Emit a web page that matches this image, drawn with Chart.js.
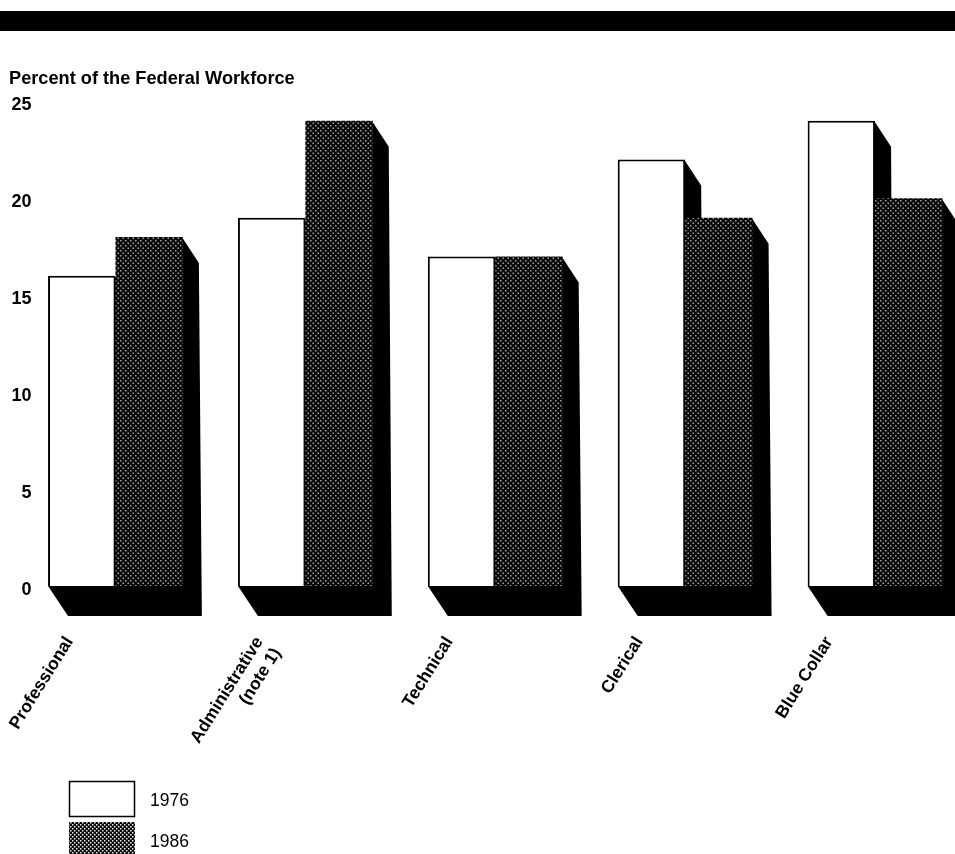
<!DOCTYPE html>
<html>
<head>
<meta charset="utf-8">
<title>Federal Workforce</title>
<script src="https://cdn.jsdelivr.net/npm/chart.js@4"></script>
<style>
    html, body { margin: 0; padding: 0; background: #fff; overflow: hidden; width: 955px; height: 854px; }
    canvas { display: block; }
</style>
</head>
<body>
<canvas id="chart" width="970" height="854"></canvas>
<script>
const categories = ['Professional', ['Administrative', '(note 1)'], 'Technical', 'Clerical', 'Blue Collar'];
const values1976 = [16, 19, 17, 22, 24];
const values1986 = [18, 24, 17, 19, 20];
const yTicks = [0, 5, 10, 15, 20, 25];

// Trama punteada para 1986
function dotPattern(size, dot, color) {
    const tile = document.createElement('canvas');
    tile.width = size;
    tile.height = size;
    const c = tile.getContext('2d');
    c.fillStyle = '#0a0a0a';
    c.fillRect(0, 0, size, size);
    c.fillStyle = color;
    c.fillRect(0, 0, dot, dot);
    c.fillRect(size / 2, size / 2, dot, dot);
    return document.querySelector('#chart').getContext('2d').createPattern(tile, 'repeat');
}
const barDots = dotPattern(5, 1.5, '#a0a0a0');
const legendDots = dotPattern(4, 1.5, '#e8e8e8');

// Caras negras de los bloques, detras de las barras
const depthFaces = {
    id: 'depthFaces',
    beforeDatasetsDraw(chart) {
        const ctx = chart.ctx;
        const first = chart.getDatasetMeta(0).data;
        const second = chart.getDatasetMeta(1).data;
        ctx.save();
        ctx.fillStyle = '#000';
        first.forEach((bar, i) => {
            const left = bar.x - bar.width / 2;
            const right = second[i].x + second[i].width / 2;
            const base = bar.base;
            ctx.beginPath();
            ctx.moveTo(left, base);
            ctx.lineTo(left + 20, base + 30);
            ctx.lineTo(right + 19, base + 30);
            ctx.lineTo(right + 10, base);
            ctx.fill();
            [bar, second[i]].forEach(b => {
                const r = b.x + b.width / 2;
                ctx.beginPath();
                ctx.moveTo(r - 1, b.y);
                ctx.lineTo(r + 16, b.y + 26);
                ctx.lineTo(r + 19, base + 30);
                ctx.lineTo(r - 1, base);
                ctx.fill();
            });
        });
        ctx.restore();
    }
};

// Franja superior y leyenda
const pageMarks = {
    id: 'pageMarks',
    afterDraw(chart) {
        const ctx = chart.ctx;
        ctx.save();
        ctx.fillStyle = '#000';
        ctx.fillRect(0, 11, chart.width, 20);
        const rows = [781, 822];
        chart.data.datasets.forEach((ds, i) => {
            ctx.fillStyle = i === 0 ? ds.backgroundColor : legendDots;
            ctx.fillRect(69, rows[i], 66, 35);
            if (i === 0) {
                ctx.strokeStyle = '#000';
                ctx.lineWidth = 1.5;
                ctx.strokeRect(69.5, rows[i] + 0.5, 65, 35);
            }
            ctx.fillStyle = '#000';
            ctx.font = '17.5px "Liberation Sans"';
            ctx.textBaseline = 'middle';
            ctx.fillText(ds.label, 150, rows[i] + 20);
        });
        ctx.restore();
    }
};

new Chart(document.querySelector('#chart'), {
    type: 'bar',
    data: {
        labels: categories,
        datasets: [
            {
                label: '1976',
                data: values1976,
                backgroundColor: '#fff',
                borderColor: '#000',
                borderWidth: 2
            },
            {
                label: '1986',
                data: values1986,
                backgroundColor: barDots,
                borderWidth: 0
            }
        ]
    },
    plugins: [depthFaces, pageMarks],
    options: {
        responsive: false,
        animation: false,
        barPercentage: 1,
        categoryPercentage: 0.71,
        layout: { padding: { left: 9 } },
        plugins: {
            legend: { display: false },
            tooltip: { enabled: false },
            title: {
                display: true,
                text: 'Percent of the Federal Workforce',
                align: 'start',
                color: '#000',
                font: { family: 'Liberation Sans', size: 18.2, weight: 'bold' },
                padding: { top: 68, bottom: 11.5 }
            }
        },
        scales: {
            x: {
                grid: { display: false, drawTicks: false },
                border: { display: false },
                afterFit(scale) { scale.height = 268; },
                ticks: {
                    autoSkip: false,
                    minRotation: 58,
                    maxRotation: 58,
                    labelOffset: -46,
                    padding: 47,
                    color: '#000',
                    font: { family: 'Liberation Sans', size: 17.5, weight: 'bold' }
                }
            },
            y: {
                min: 0,
                max: 25,
                grid: { display: false, drawTicks: false },
                border: { display: false },
                afterFit(scale) { scale.width = 11.5; },
                afterBuildTicks(scale) { scale.ticks = yTicks.map(v => ({ value: v })); },
                ticks: {
                    mirror: true,
                    padding: -9,
                    labelOffset: 4,
                    color: '#000',
                    font: { family: 'Liberation Sans', size: 18, weight: 'bold' },
                    callback: v => (v < 10 ? '\u2007' + v : '' + v)
                }
            }
        }
    }
});
</script>
</body>
</html>
